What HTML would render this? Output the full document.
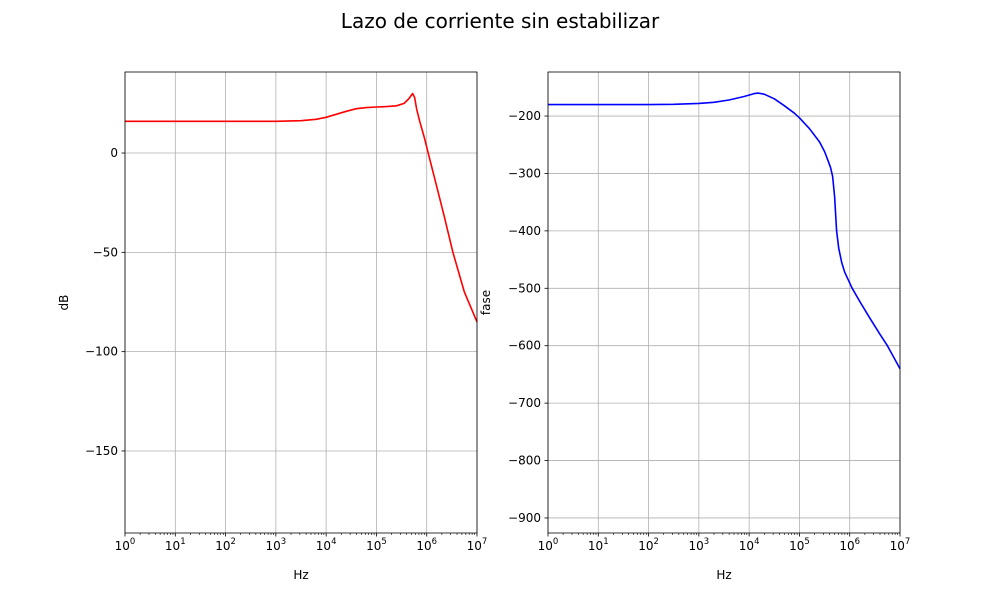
<!DOCTYPE html>
<html><head><meta charset="utf-8"><style>
body{margin:0;background:#fff;font-family:"Liberation Sans","DejaVu Sans",sans-serif}
text{font-family:"DejaVu Sans","Liberation Sans",sans-serif;font-size:12px;fill:#000}
</style></head><body>
<svg id="c" width="1000" height="600" xmlns="http://www.w3.org/2000/svg">
<text x="500" y="28" text-anchor="middle" style="font-size:20px">Lazo de corriente sin estabilizar</text>
</svg>
<script>
const magLogF=[0,1,2,3,3.5,3.8,4.0,4.2,4.4,4.6,4.8,5.0,5.2,5.4,5.55,5.65,5.72,5.76,5.8,5.86,5.95,6.02,6.2,6.35,6.52,6.75,7];
const magDb=[16,16,16,16,16.3,17,18,19.5,21,22.3,22.9,23.2,23.4,23.8,25,27.5,30,28,22,16,8,1,-17,-32,-50,-70,-85];
const phLogF=[0,1,2,2.5,3,3.3,3.6,3.9,4.1,4.18,4.3,4.5,4.7,4.9,5.0,5.2,5.4,5.5,5.57,5.62,5.66,5.7,5.74,5.78,5.84,5.9,6.05,6.2,6.4,6.6,6.75,7];
const phDeg=[-180,-180,-180,-179.5,-178,-176,-172,-166,-161,-160,-162,-170,-182,-195,-203,-222,-245,-262,-278,-290,-305,-340,-400,-430,-455,-472,-500,-523,-552,-580,-600,-640];
const xTicks=[0,1,2,3,4,5,6,7];
const magYTicks=[0,-50,-100,-150];
const phYTicks=[-200,-300,-400,-500,-600,-700,-800,-900];
const NS="http://www.w3.org/2000/svg",svg=document.getElementById('c');
function el(t,a,p){const e=document.createElementNS(NS,t);for(const k in a)e.setAttribute(k,a[k]);(p||svg).appendChild(e);return e;}
function panel(L,R,T,B,ymin,ymax,yt,xs,ys,color,ylab,ylabX,nm){
 const X=v=>L+(v-0)/(7)*(R-L), Y=v=>B-(v-ymin)/(ymax-ymin)*(B-T);
 const g=el('g',{});
 xTicks.forEach(t=>{const x=X(t);
  const gl=el('line',{x1:x,x2:x,y1:T,y2:B,stroke:'#b0b0b0','stroke-width':0.8},g);
  el('line',{x1:x,x2:x,y1:B,y2:B+3.5,stroke:'#000','stroke-width':0.8},g);
  const tx=el('text',{x:x,y:B+17,'text-anchor':'middle'},g);
  tx.innerHTML='10<tspan dy="-6" style="font-size:8.5px">'+t+'</tspan>';
  if(t<7)for(let m=2;m<10;m++){const xm=X(t+Math.log10(m));el('line',{x1:xm,x2:xm,y1:B,y2:B+2,stroke:'#000','stroke-width':0.6},g);}
 });
 yt.forEach(t=>{const y=Y(t);
  const gl=el('line',{x1:L,x2:R,y1:y,y2:y,stroke:'#b0b0b0','stroke-width':0.8},g);
  el('line',{x1:L-3.5,x2:L,y1:y,y2:y,stroke:'#000','stroke-width':0.8},g);
  const tx=el('text',{x:L-7,y:y+4,'text-anchor':'end'},g);tx.textContent=String(t).replace('-','\u2212');
  
 });
 const d=xs.map((v,i)=>(i?'L':'M')+X(v).toFixed(1)+','+Y(ys[i]).toFixed(1)).join(' ');
 const p=el('path',{d:d,fill:'none',stroke:color,'stroke-width':1.6,'stroke-linejoin':'round'},g);
 
 el('rect',{x:L,y:T,width:R-L,height:B-T,fill:'none',stroke:'#000','stroke-width':0.8},g);
 const xl=el('text',{x:(L+R)/2,y:B+46,'text-anchor':'middle'},g);xl.textContent='Hz';
 const yl=el('text',{x:ylabX,y:(T+B)/2,'text-anchor':'middle',transform:'rotate(-90 '+ylabX+' '+(T+B)/2+')'},g);yl.textContent=ylab;
 
}
panel(125,477,72,533,-191.3,40.8,magYTicks,magLogF,magDb,'#ff0000','dB',68,'magnitude-panel');
panel(548,900,72,533,-926.2,-123.3,phYTicks,phLogF,phDeg,'#0000ff','fase',490,'phase-panel');
</script>
</body></html>
